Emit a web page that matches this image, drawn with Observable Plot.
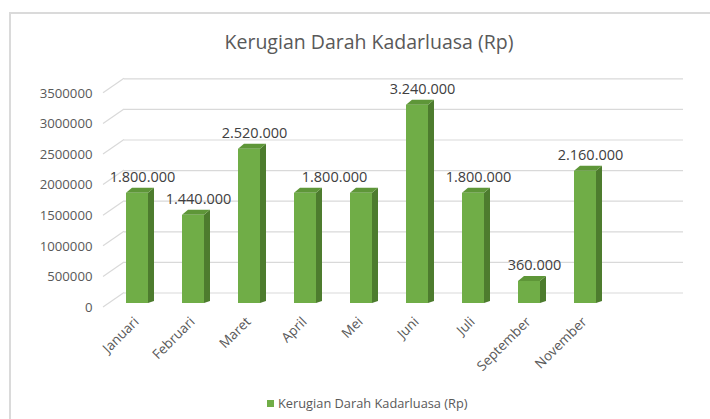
<!DOCTYPE html>
<html><head><meta charset="utf-8">
<script src="https://cdn.jsdelivr.net/npm/d3@7"></script>
<script src="https://cdn.jsdelivr.net/npm/@observablehq/plot@0.6"></script>
<style>
body{margin:0;background:#fff;font-family:"Open Sans",sans-serif;width:710px;height:419px;overflow:hidden;position:relative;}
#frame{position:absolute;left:9px;top:12px;width:710px;height:420px;border-top:2px solid #dadada;border-left:2px solid #dadada;box-sizing:border-box;}
#title{position:absolute;left:0;width:738px;top:28px;line-height:28px;text-align:center;font-size:19.5px;color:#595959;}
#chart{position:absolute;left:0;top:60px;}
#legend{position:absolute;left:267px;top:394px;line-height:18px;font-size:12.8px;color:#595959;white-space:nowrap;}
#legend .sw{display:inline-block;width:7px;height:7px;background:#70ad47;margin-right:4px;vertical-align:middle;position:relative;top:-1px;}
</style></head>
<body>
<div id="frame"></div>
<div id="title">Kerugian Darah Kadarluasa (Rp)</div>
<div id="chart"></div>
<div id="legend"><span class="sw"></span>Kerugian Darah Kadarluasa (Rp)</div>
<script>
const months = ["Januari","Februari","Maret","April","Mei","Juni","Juli","September","November"];
const losses = [1800000,1440000,2520000,1800000,1800000,3240000,1800000,360000,2160000];
const yTicks = [0,500000,1000000,1500000,2000000,2500000,3000000,3500000];
// data labels shown in the reference (Mei's label is absent; April's label sits between April and Mei)
const labeledMonths = ["Januari","Februari","Maret","Juni","Juli","September","November"];
const shiftedLabelMonths = ["April"];
const seriesName = "Kerugian Darah Kadarluasa (Rp)";

const data = months.map((m, i) => ({month: m, value: losses[i]}));
const idLocale = d3.formatLocale({decimal: ",", thousands: ".", grouping: [3], currency: ["Rp", ""]});
const fmt = idLocale.format(",d");

const FRONT = "#70ad47", SIDE = "#4d7c2e", TOP = "#5e9638";
const GRID = "#d9d9d9";
const BACK_DY = -10.5, LABEL_DY = 4, WALL_X0 = 103, WALL_X1 = 124;
const DEPTH_X = 6, DEPTH_Y = 5;

function walls(index, scales) {
  const y = scales.y;
  const g = d3.create("svg:g").attr("stroke", GRID).attr("stroke-width", 1.2).attr("fill", "none");
  for (const t of yTicks) {
    g.append("line")
      .attr("x1", WALL_X0).attr("y1", y(t) + LABEL_DY)
      .attr("x2", WALL_X1).attr("y2", y(t) + BACK_DY);
  }
  return g.node();
}

function faces(index, scales) {
  const {x, y} = scales;
  const bw = x.bandwidth ? x.bandwidth() : 22;
  const g = d3.create("svg:g");
  data.forEach(d => {
    const x0 = x(d.month), x1 = x0 + bw, yt = y(d.value), yb = y(0);
    g.append("path")
      .attr("d", `M${x1},${yt}L${x1 + DEPTH_X},${yt - DEPTH_Y}L${x1 + DEPTH_X},${yb - DEPTH_Y * 0.4}L${x1},${yb}Z`)
      .attr("fill", SIDE);
    g.append("path")
      .attr("d", `M${x0},${yt}L${x0 + DEPTH_X},${yt - DEPTH_Y}L${x1 + DEPTH_X},${yt - DEPTH_Y}L${x1},${yt}Z`)
      .attr("fill", TOP);
  });
  return g.node();
}

const step = 56.1, firstCenter = 137;
const labelStyle = {x: "month", y: "value", text: d => fmt(d.value), dy: -16, fontSize: 14.5, fill: "#404040", lineAnchor: "middle"};
const chart = Plot.plot({
  width: 710,
  height: 320,
  marginLeft: WALL_X1,
  marginRight: 27,
  marginTop: 0,
  marginBottom: 73,
  style: {fontFamily: "'Open Sans', sans-serif", background: "transparent", overflow: "visible"},
  x: {domain: months, range: [firstCenter - step / 2, firstCenter + (months.length - 0.5) * step], paddingInner: 0.6, paddingOuter: 0.3, align: 0.5},
  y: {domain: [0, 3500000], range: [243, 243 - 7 * 30.6]},
  marks: [
    Plot.ruleY(yTicks, {stroke: GRID, strokeWidth: 1.2, dy: BACK_DY}),
    walls,
    Plot.axisY({ticks: yTicks, tickSize: 0, tickPadding: 32, dy: LABEL_DY, tickFormat: d => String(d), fontSize: 13.2, color: "#595959", label: null}),
    Plot.axisX({tickSize: 0, tickPadding: 12, tickRotate: -45, fontSize: 13.5, color: "#595959", label: null, dx: -1}),
    Plot.barY(data, {x: "month", y: "value", fill: FRONT}),
    faces,
    Plot.text(data.filter(d => labeledMonths.includes(d.month)), {...labelStyle, dx: 5}),
    Plot.text(data.filter(d => shiftedLabelMonths.includes(d.month)), {...labelStyle, dx: step / 2 + 1})
  ]
});
document.getElementById("chart").appendChild(chart);
</script>
</body></html>
